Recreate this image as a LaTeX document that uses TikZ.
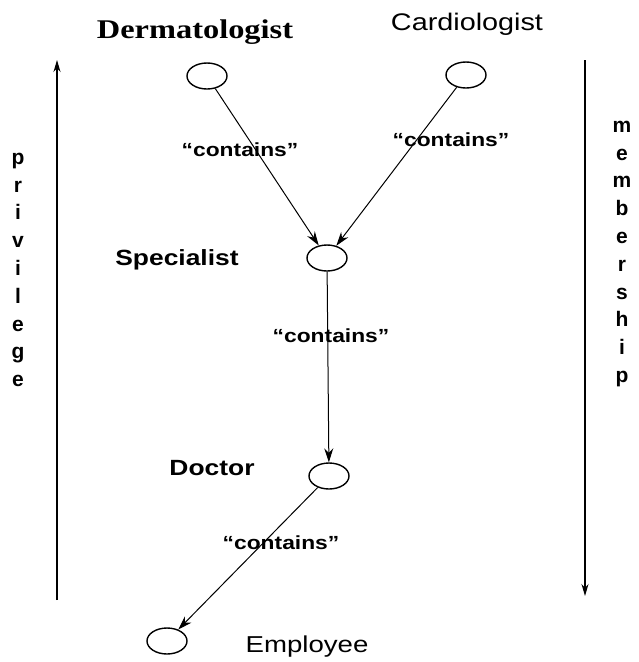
\documentclass[tikz,border=0pt]{standalone}
\usepackage{fontspec}
\setmainfont{Liberation Sans}
\newfontfamily\timesfont{Liberation Serif}
\usetikzlibrary{arrows.meta,shapes.geometric}
\newcommand\stretchtxt[1]{\scalebox{1.2}[1]{#1}}
\begin{document}
\begin{tikzpicture}[x=1pt,y=-1pt,
  role/.style={draw, ellipse, minimum width=40pt, minimum height=26pt, inner sep=0pt, line width=1.4pt},
  conn/.style={-{Stealth[length=14pt,width=9pt]}, line width=1pt},
  side/.style={-{Stealth[length=12pt,width=7pt]}, line width=1.2pt},
  lbl/.style={inner sep=0pt, font=\fontsize{23}{27}\selectfont},
  cont/.style={inner sep=0pt, font=\bfseries\fontsize{19}{22}\selectfont},
  vert/.style={inner sep=0pt, align=center, font=\bfseries\fontsize{21}{27.8}\selectfont}]
\path[use as bounding box, fill=white] (0,0) rectangle (638,662);

% role ellipses
\node[role] (derm) at (207,76) {};
\node[role] (card) at (466,75) {};
\node[role] (spec) at (327,258) {};
\node[role] (doc) at (329,476) {};
\node[role] (emp) at (167,641) {};

% role names
\node[inner sep=0pt, font=\timesfont\bfseries\fontsize{27}{30}\selectfont] (dermL) at (195,32) {\stretchtxt{Dermatologist}};
\node[lbl, font=\fontsize{24}{28}\selectfont] (cardL) at (467,24) {\stretchtxt{Cardiologist}};
\node[lbl, font=\bfseries\fontsize{22}{26}\selectfont] (specL) at (177,260) {\stretchtxt{Specialist}};
\node[lbl, font=\bfseries\fontsize{22}{26}\selectfont] (docL) at (212,468) {\stretchtxt{Doctor}};
\node[lbl] (empL) at (307,647) {\stretchtxt{Employee}};

% connectors
\draw[conn] (derm) -- (spec);
\draw[conn] (card) -- (spec);
\draw[conn] (spec) -- (doc);
\draw[conn] (doc) -- (emp);

% connector labels
\node[cont] (c1) at (240,150) {\stretchtxt{\textquotedblleft contains\textquotedblright}};
\node[cont] (c2) at (451,140) {\stretchtxt{\textquotedblleft contains\textquotedblright}};
\node[cont] (c3) at (331,336) {\stretchtxt{\textquotedblleft contains\textquotedblright}};
\node[cont] (c4) at (281,543) {\stretchtxt{\textquotedblleft contains\textquotedblright}};

% side arrows
\coordinate (pb) at (57,600);
\coordinate (pt) at (57,60);
\draw[side] (pb) -- (pt);
\coordinate (mt) at (585,60);
\coordinate (mb) at (585,596);
\draw[side] (mt) -- (mb);

\node[vert] (priv) at (18,270) {p\\r\\i\\v\\i\\l\\e\\g\\e};
\node[vert] (memb) at (622,254) {m\\e\\m\\b\\e\\r\\s\\h\\i\\p};
\end{tikzpicture}
\end{document}
